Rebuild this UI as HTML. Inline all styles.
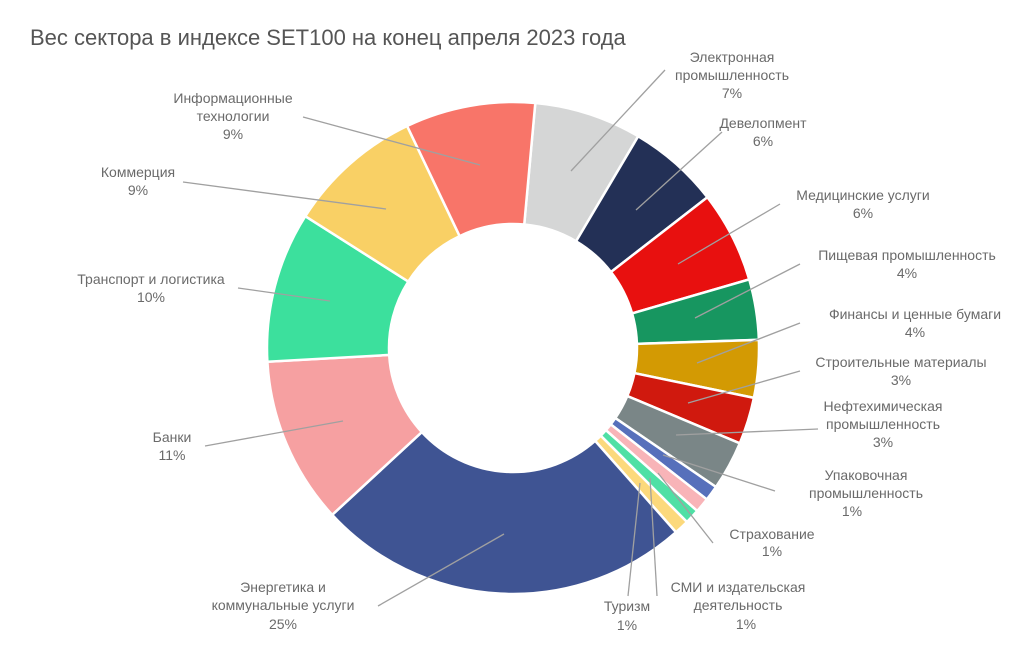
<!DOCTYPE html>
<html><head><meta charset="utf-8"><style>
html,body{margin:0;padding:0;background:#fff;width:1024px;height:652px;overflow:hidden}
text{font-family:"Liberation Sans",sans-serif;fill:#6a6a6a;font-size:14px}
</style></head><body>
<svg id="s" width="1024" height="652" xmlns="http://www.w3.org/2000/svg">
<text x="30" y="45" style="font-size:22px;fill:#555">Вес сектора в индексе SET100 на конец апреля 2023 года</text>
<g id="pie"></g>
<g stroke="#a0a0a0" stroke-width="1.3" fill="none">
<line x1="303" y1="117" x2="480" y2="165"/>
<line x1="183" y1="182" x2="386" y2="209"/>
<line x1="238" y1="288" x2="330" y2="301"/>
<line x1="205" y1="446" x2="343" y2="421"/>
<line x1="378" y1="606" x2="504" y2="534"/>
<line x1="628" y1="596" x2="640" y2="483"/>
<line x1="657" y1="596" x2="650" y2="478"/>
<line x1="713" y1="543" x2="658" y2="473"/>
<line x1="775" y1="491" x2="663" y2="455"/>
<line x1="818" y1="429" x2="676" y2="435"/>
<line x1="800" y1="371" x2="688" y2="403"/>
<line x1="800" y1="323" x2="697" y2="363"/>
<line x1="800" y1="264" x2="695" y2="318"/>
<line x1="780" y1="204" x2="678" y2="264"/>
<line x1="722" y1="132" x2="636" y2="210"/>
<line x1="665" y1="70" x2="571" y2="171"/>
</g>
<g text-anchor="middle">
<text x="233" y="103">Информационные</text><text x="233" y="121">технологии</text><text x="233" y="139">9%</text>
<text x="138" y="177">Коммерция</text><text x="138" y="195">9%</text>
<text x="151" y="284">Транспорт и логистика</text><text x="151" y="302">10%</text>
<text x="172" y="442">Банки</text><text x="172" y="460">11%</text>
<text x="283" y="592">Энергетика и</text><text x="283" y="610">коммунальные услуги</text><text x="283" y="629">25%</text>
<text x="627" y="611">Туризм</text><text x="627" y="630">1%</text>
<text x="738" y="592">СМИ и издательская</text><text x="738" y="610">деятельность</text><text x="746" y="629">1%</text>
<text x="772" y="539">Страхование</text><text x="772" y="556">1%</text>
<text x="866" y="480">Упаковочная</text><text x="866" y="498">промышленность</text><text x="852" y="516">1%</text>
<text x="883" y="411">Нефтехимическая</text><text x="883" y="429">промышленность</text><text x="883" y="447">3%</text>
<text x="901" y="367">Строительные материалы</text><text x="901" y="385">3%</text>
<text x="915" y="319">Финансы и ценные бумаги</text><text x="915" y="337">4%</text>
<text x="907" y="260">Пищевая промышленность</text><text x="907" y="278">4%</text>
<text x="863" y="200">Медицинские услуги</text><text x="863" y="218">6%</text>
<text x="763" y="128">Девелопмент</text><text x="763" y="146">6%</text>
<text x="732" y="62">Электронная</text><text x="732" y="80">промышленность</text><text x="732" y="98">7%</text>
</g>
</svg>
<script>
var b=[5.2,30.6,52.2,73.8,88.1,101.7,112.8,124.4,128.0,131.5,135.0,138.5,227.3,266.8,302.4,334.5,365.2];
var c=["#d5d6d6","#233056","#e8100f","#179660","#d39a03","#d0190e","#7a8687","#5770bb","#f8b4b8","#4fe0a5","#fcd97c","#3f5493","#f6a0a1","#3ce09d","#f9d065","#f87569"];
var cx=513,cy=348,R=246,r=124,g=document.getElementById("pie"),h="";
function p(a,rr){a=a*Math.PI/180;return (cx+rr*Math.sin(a)).toFixed(2)+","+(cy-rr*Math.cos(a)).toFixed(2);}
for(var i=0;i<16;i++){var a0=b[i],a1=b[i+1],l=(a1-a0)>180?1:0;
h+='<path d="M'+p(a0,R)+' A'+R+','+R+' 0 '+l+' 1 '+p(a1,R)+' L'+p(a1,r)+' A'+r+','+r+' 0 '+l+' 0 '+p(a0,r)+' Z" fill="'+c[i]+'" stroke="#fff" stroke-width="2.5"/>';}
g.innerHTML=h;
</script>
</body></html>
